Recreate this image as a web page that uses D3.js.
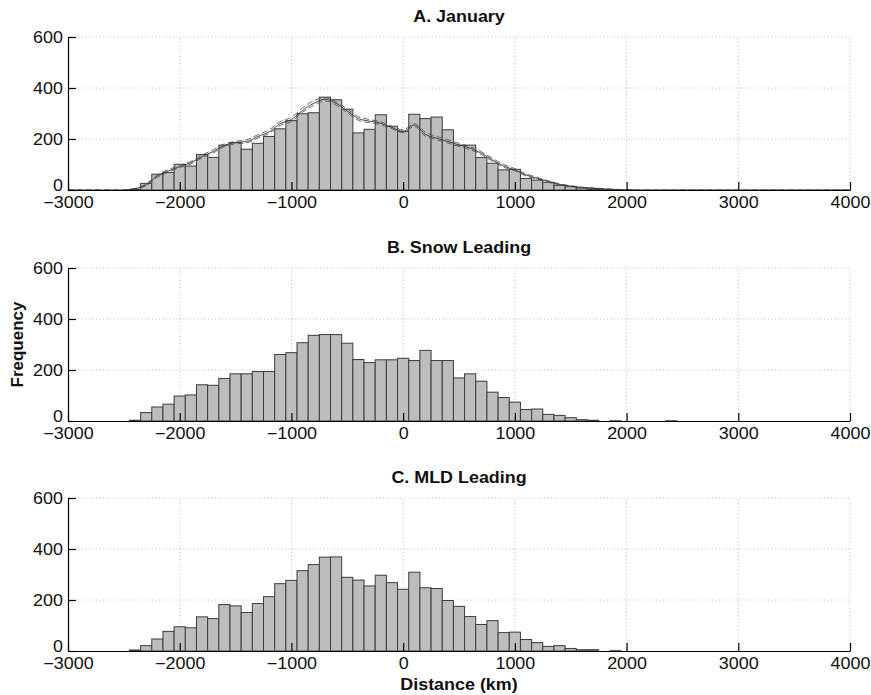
<!DOCTYPE html>
<html>
<head>
<meta charset="utf-8">
<script src="https://cdn.jsdelivr.net/npm/d3@7"></script>
<style>
  body { margin: 0; background: #fff; }
  text { font-family: "Liberation Sans", Arial, sans-serif; fill: #111; }
</style>
</head>
<body>
<div id="chart"></div>
<script>
// bin centres (km)
const binCenters = [-2400, -2300, -2200, -2100, -2000, -1900, -1800, -1700, -1600, -1500,
  -1400, -1300, -1200, -1100, -1000, -900, -800, -700, -600, -500,
  -400, -300, -200, -100, 0, 100, 200, 300, 400, 500,
  600, 700, 800, 900, 1000, 1100, 1200, 1300, 1400, 1500,
  1600, 1700, 1800, 1900, 2000, 2100, 2200, 2300, 2400, 2500];

const januaryCounts = [3, 26, 62, 69, 101, 94, 139, 128, 176, 186,
  160, 183, 210, 240, 272, 299, 303, 364, 354, 317,
  224, 238, 295, 250, 230, 297, 280, 286, 236, 176,
  176, 127, 105, 79, 81, 45, 39, 30, 18, 13,
  8, 4, 2, 1, 0, 0, 0, 0, 0, 0];

const snowCounts = [3, 33, 55, 66, 98, 102, 142, 140, 167, 185,
  185, 194, 194, 261, 268, 307, 336, 339, 339, 305,
  241, 229, 240, 240, 246, 237, 277, 237, 237, 169,
  185, 156, 113, 92, 74, 45, 47, 26, 22, 13,
  5, 3, 0, 1, 0, 0, 0, 0, 1, 0];

const mldCounts = [4, 21, 47, 77, 95, 91, 134, 127, 182, 177,
  151, 186, 213, 264, 277, 315, 339, 368, 369, 289,
  278, 255, 297, 268, 242, 309, 248, 245, 198, 175,
  135, 104, 119, 72, 74, 45, 33, 18, 21, 10,
  5, 5, 0, 1, 0, 0, 0, 0, 0, 0];

// smoothed curves over panel A
const curveDist = [-3000, -2500, -2400, -2300, -2200, -2100, -2000, -1900, -1800, -1700, -1600,
  -1500, -1400, -1300, -1200, -1100, -1000, -900, -800, -700, -600,
  -500, -400, -300, -200, -100, 0, 100, 200, 300, 400,
  500, 600, 700, 800, 900, 1000, 1100, 1200, 1300, 1400,
  1500, 1600, 1700, 1800, 1900, 2000, 2100, 4000];

const curveMid = [0, 0, 5, 20, 55, 75, 92, 107, 131, 151, 175,
  186, 190, 210, 228, 260, 276, 312, 340, 356, 340,
  310, 280, 270, 262, 245, 230, 255, 218, 203, 190,
  177, 164, 144, 118, 94, 79, 59, 46, 33, 22,
  15, 10, 7, 4, 2, 1, 0, 0];

const curveHigh = [0, 0, 6, 24, 60, 80, 97, 112, 137, 158, 181,
  191, 197, 217, 236, 268, 285, 322, 350, 362, 346,
  318, 288, 276, 268, 250, 236, 260, 226, 210, 197,
  183, 170, 150, 124, 100, 84, 63, 50, 36, 24,
  17, 11, 8, 5, 3, 1, 0, 0];

const curveLow = [0, 0, 4, 17, 50, 70, 88, 102, 126, 145, 170,
  181, 185, 204, 222, 253, 268, 305, 332, 349, 333,
  303, 273, 264, 256, 240, 225, 249, 211, 197, 184,
  171, 158, 139, 113, 89, 75, 55, 43, 30, 20,
  13, 9, 6, 3, 2, 1, 0, 0];

const xTicks = [-3000, -2000, -1000, 0, 1000, 2000, 3000, 4000];
const yTicks = [0, 200, 400, 600];
const panelTitles = ["A. January", "B. Snow Leading", "C. MLD Leading"];

const width = 871, height = 695;
const left = 68, right = 850;
const panelTops = [37, 268, 498];
const panelH = 153;
const stretch = 1.12;

const svg = d3.select("#chart").append("svg")
  .attr("width", width).attr("height", height);

const x = d3.scaleLinear().domain([-3000, 4000]).range([left, right]);

const panels = [
  { counts: januaryCounts, curves: true },
  { counts: snowCounts, curves: false },
  { counts: mldCounts, curves: false }
];

panels.forEach((p, i) => {
  const top = panelTops[i];
  const y = d3.scaleLinear().domain([0, 600]).range([top + panelH, top]);
  const g = svg.append("g");

  // dotted grid
  g.selectAll(".vgrid").data(xTicks.slice(1)).enter().append("line")
    .attr("x1", d => x(d)).attr("x2", d => x(d))
    .attr("y1", y(0)).attr("y2", y(600))
    .attr("stroke", "#bcbcbc").attr("stroke-width", 1)
    .attr("stroke-dasharray", "1,2.5");
  g.selectAll(".hgrid").data(yTicks.slice(1)).enter().append("line")
    .attr("x1", x(-3000)).attr("x2", x(4000))
    .attr("y1", d => y(d)).attr("y2", d => y(d))
    .attr("stroke", "#bcbcbc").attr("stroke-width", 1)
    .attr("stroke-dasharray", "1,2.5");

  // bars
  const bars = binCenters.map((c, k) => ({ c: c, v: p.counts[k] })).filter(d => d.v > 0);
  g.selectAll(".bar").data(bars).enter().append("rect")
    .attr("x", d => x(d.c - 50))
    .attr("y", d => y(d.v))
    .attr("width", d => x(d.c + 50) - x(d.c - 50))
    .attr("height", d => y(0) - y(d.v))
    .attr("fill", "#bdbdbf")
    .attr("stroke", "#3c3c3c")
    .attr("stroke-width", 1);

  // smoothed curves
  if (p.curves) {
    const line = d3.line()
      .x((d, k) => x(curveDist[k]))
      .y(d => y(d))
      .curve(d3.curveMonotoneX);
    [[curveHigh, "6,3"], [curveLow, "6,3"], [curveMid, null]].forEach(([vals, dash]) => {
      g.append("path")
        .attr("d", line(vals))
        .attr("fill", "none")
        .attr("stroke", dash ? "#5a5a5a" : "#333")
        .attr("stroke-width", 0.9)
        .attr("stroke-dasharray", dash);
    });
  }

  // axes
  const xAxis = g.append("g")
    .attr("transform", `translate(0,${y(0)})`)
    .call(d3.axisBottom(x).tickValues(xTicks).tickSize(-8).tickSizeOuter(0).tickPadding(7)
      .tickFormat(d => d3.format("")(d).replace("-", "\u2212")));
  const yAxis = g.append("g")
    .attr("transform", `translate(${left},0)`)
    .call(d3.axisLeft(y).tickValues(yTicks).tickSize(-8).tickSizeOuter(0).tickPadding(4.5));

  [xAxis, yAxis].forEach(a => {
    a.select(".domain").attr("stroke", "#000").attr("stroke-width", 1.2);
    a.selectAll(".tick line").attr("stroke", "#000").attr("stroke-width", 1.2);
    a.selectAll("text")
      .style("font-size", "16px")
      .style("font-family", "'Liberation Sans', Arial, sans-serif")
      .attr("fill", "#111")
      .attr("transform", `scale(${stretch},1)`);
  });
  // lift the "0" label so it clears the x tick label below it
  yAxis.selectAll(".tick").filter(d => d === 0).select("text").attr("y", -5);

  // panel title
  svg.append("text")
    .attr("transform", `translate(${(left + right) / 2},${top - 15}) scale(${stretch},1)`)
    .attr("text-anchor", "middle")
    .style("font-size", "16px")
    .style("font-weight", "bold")
    .text(panelTitles[i]);
});

// axis labels
svg.append("text")
  .attr("transform", `translate(${(left + right) / 2},690) scale(${stretch},1)`)
  .attr("text-anchor", "middle")
  .style("font-size", "16px")
  .style("font-weight", "bold")
  .text("Distance (km)");

svg.append("text")
  .attr("transform", `translate(23,${panelTops[1] + panelH / 2}) rotate(-90)`)
  .attr("text-anchor", "middle")
  .style("font-size", "17px")
  .style("font-weight", "bold")
  .text("Frequency");
</script>
</body>
</html>
